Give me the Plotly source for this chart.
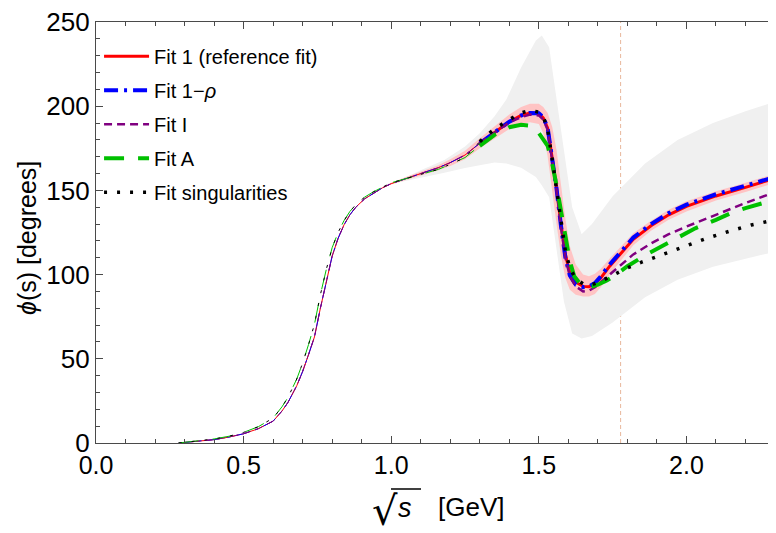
import plotly.graph_objects as go

# ---------------- data ----------------
m_tau = 1.777  # GeV, vertical marker

# low-energy part (thin lines)
x_low = [0.28, 0.33, 0.40, 0.45, 0.50, 0.55, 0.60, 0.63, 0.65, 0.68, 0.70, 0.72,
         0.74, 0.76, 0.78, 0.80, 0.82, 0.84, 0.86, 0.88, 0.91, 0.94, 0.97, 1.00,
         1.05, 1.10, 1.16, 1.20, 1.25]
phi_low_main = [0, 0.7, 2.0, 3.5, 5.5, 8.5, 13, 19, 24, 34, 42.5, 52.5,
                63, 80, 96, 111, 121.5, 129.5, 135.5, 140, 145, 148.5, 151.5, 154,
                157.2, 160, 163.5, 166.5, 171]
phi_low_alt = [0, 0.9, 2.4, 4.0, 6.3, 9.7, 14.8, 21.5, 27, 38, 47.5, 58.5,
               70.5, 88, 103, 116, 125, 132, 137.5, 141.5, 146, 149.2, 152, 154.5,
               157, 159.5, 162.5, 165.5, 169.5]

# high-energy part (thick lines)
x_fit1 = [1.30, 1.35, 1.40, 1.44, 1.47, 1.50, 1.515, 1.53, 1.545, 1.56, 1.575, 1.59,
          1.605, 1.625, 1.65, 1.67, 1.69, 1.71, 1.74, 1.78, 1.82, 1.88, 1.94, 2.00,
          2.10, 2.20, 2.30]
phi_fit1 = [178, 184.5, 190.8, 194.5, 196, 195.5, 193, 187, 170, 152, 130, 112,
            101, 95.5, 93, 92.8, 94.5, 98, 105, 113, 121, 129, 135.5, 140.5,
            146.7, 151.8, 157.2]
phi_fit1rho = [178, 184.5, 190.8, 194.5, 196, 195.8, 193.5, 187, 170, 151, 129, 110,
               99.5, 94, 92.5, 93, 95, 99, 106, 114, 122, 130, 136.5, 141.5,
               147.7, 152.8, 158]
phi_fitI = [178, 184.5, 190.5, 193.5, 195, 194.5, 192, 186, 169, 150, 128, 110,
            99, 93, 90, 90.5, 92.5, 95.5, 100.5, 106.5, 112, 118.5, 124, 128.5,
            135.5, 142.5, 149]
x_fitA = [1.30, 1.35, 1.40, 1.44, 1.47, 1.50, 1.53, 1.545, 1.56, 1.575, 1.59, 1.605,
          1.62, 1.64, 1.66, 1.68, 1.70, 1.73, 1.76, 1.80, 1.87, 1.95, 2.03, 2.10,
          2.15, 2.20, 2.30]
phi_fitA = [176.5, 183, 187.5, 189, 188.5, 184, 176.5, 166, 153, 137, 122, 108,
            99, 94.5, 93, 93, 94, 96.5, 99.8, 105, 112.5, 120, 127.5, 132.5,
            136.5, 139.5, 144.5]
x_sing = [1.30, 1.35, 1.40, 1.44, 1.47, 1.50, 1.515, 1.53, 1.545, 1.56, 1.575, 1.59,
          1.605, 1.625, 1.65, 1.68, 1.71, 1.75, 1.80, 1.85, 1.93, 2.00, 2.07, 2.15,
          2.22, 2.30]
phi_sing = [179, 186.5, 192, 196, 197.5, 196.5, 194, 186, 169, 150, 130, 114,
            104, 97.5, 94.5, 94, 96, 99.5, 104, 107.5, 112.7, 117.5, 121.6, 126,
            129.5, 132.5]

# error band of Fit 1 (pink)
x_band1 = [0.97, 1.00, 1.05, 1.10, 1.16, 1.20, 1.25, 1.30, 1.35, 1.40, 1.44, 1.47,
           1.50, 1.515, 1.53, 1.545, 1.56, 1.575, 1.59, 1.605, 1.625, 1.65, 1.67,
           1.69, 1.71, 1.74, 1.78, 1.82, 1.88, 1.94, 2.00, 2.10, 2.20, 2.30]
band1_hi = [151.5, 154.5, 158, 161.2, 165, 168.5, 173.5, 181, 188, 195, 199.5, 201.5,
            201.5, 199.5, 196, 188, 174, 154, 133, 117, 106, 100, 99,
            100.5, 103.5, 109.5, 117, 124.5, 132, 138.5, 143.5, 149.5, 154.5, 160]
band1_lo = [151.5, 153.5, 156.4, 158.8, 162, 164.5, 168.5, 175, 181, 186.5, 189.5, 190.5,
            189.5, 184, 170, 150, 130, 111, 98, 91, 88, 87, 87,
            88.5, 92.5, 100, 109, 117.5, 126, 132.5, 137.5, 144, 149, 154.5]

# large uncertainty band (grey)
x_grey = [0.98, 1.03, 1.10, 1.18, 1.25, 1.30, 1.35, 1.39, 1.44, 1.49, 1.51, 1.535,
          1.557, 1.585, 1.613, 1.645, 1.68, 1.75, 1.86, 1.97, 2.09, 2.20, 2.30]
grey_hi = [153.5, 156.2, 162, 168, 176, 184, 194, 204, 223, 239, 242, 235,
           208, 174, 140, 124, 130, 146.5, 166, 180, 190, 197, 202.6]
grey_lo = [153, 155, 157.5, 160.5, 163.3, 165, 166.5, 166, 163.5, 158, 153, 146,
           120, 84, 65, 62, 63.5, 71.5, 86.5, 97, 104.7, 109.5, 113.6]

x_ticks = [0.0, 0.5, 1.0, 1.5, 2.0]
x_ticktext = ["0.0", "0.5", "1.0", "1.5", "2.0"]
y_ticks = [0, 50, 100, 150, 200, 250]

FONT = "Liberation Sans, Arial, sans-serif"

fits = [
    # name, x_high, y_high, low values, color, width, dash
    ("Fit 1 (reference fit)", x_fit1, phi_fit1, phi_low_main, "#ff0000", 3, "solid"),
    ("Fit 1\u2212<i>\u03c1</i>", x_fit1, phi_fit1rho, phi_low_main, "#0000ff", 4, "14px,6px,3px,6px"),
    ("Fit I", x_fit1, phi_fitI, phi_low_main, "#800080", 2.5, "8px,5px"),
    ("Fit A", x_fitA, phi_fitA, phi_low_alt, "#00c000", 4, "20px,14px"),
    ("Fit singularities", x_sing, phi_sing, phi_low_alt, "#000000", 3.5, "3px,10px"),
]

fig = go.Figure()

# tau-mass marker (under the bands)
fig.add_trace(go.Scatter(x=[m_tau, m_tau], y=[0, 250], mode="lines",
                         line=dict(color="#e8b89c", width=1, dash="4px,3px"),
                         showlegend=False, hoverinfo="skip"))

# grey band
fig.add_trace(go.Scatter(x=x_grey + x_grey[::-1], y=grey_hi + grey_lo[::-1],
                         fill="toself", fillcolor="#f0f0f0", mode="lines",
                         line=dict(width=0, color="#f0f0f0"),
                         showlegend=False, hoverinfo="skip"))
# pink band
fig.add_trace(go.Scatter(x=x_band1 + x_band1[::-1], y=band1_hi + band1_lo[::-1],
                         fill="toself", fillcolor="#ffc4c4", mode="lines",
                         line=dict(width=0, color="#ffc4c4"),
                         showlegend=False, hoverinfo="skip"))

# thin low-energy parts
for name, xh, yh, ylow, col, w, dash in fits:
    fig.add_trace(go.Scatter(x=x_low + xh[:1], y=ylow + yh[:1], mode="lines",
                             line=dict(color=col, width=1, dash=dash),
                             showlegend=False, hoverinfo="skip"))

# thick high-energy parts
for i, (name, xh, yh, ylow, col, w, dash) in enumerate(fits):
    fig.add_trace(go.Scatter(x=xh, y=yh, mode="lines", name=name,
                             legendgroup=f"g{i}",
                             line=dict(color=col, width=w, dash=dash)))

axis_common = dict(showline=True, linecolor="#4a4a4a", linewidth=1.3, mirror="ticks",
                   ticks="inside", ticklen=7, tickwidth=1, tickcolor="#4a4a4a",
                   showgrid=False, zeroline=False, automargin=False,
                   ticklabeloverflow="allow")

# page has an 8px body margin, so the figure is sized to fit the window
W, H = 768, 525
fig.update_layout(
    width=W, height=H,
    margin=dict(l=88, r=1, t=14, b=90),
    paper_bgcolor="white", plot_bgcolor="white",
    font=dict(family=FONT, color="black"),
    xaxis=dict(range=[0, 2.3], tickvals=x_ticks, ticktext=x_ticktext,
               tickfont=dict(family=FONT, size=25, color="black"),
               minor=dict(dtick=0.1, ticks="inside", ticklen=4, tickcolor="#4a4a4a"),
               **axis_common),
    yaxis=dict(range=[0, 250], tickvals=y_ticks,
               tickfont=dict(family=FONT, size=26, color="black"),
               minor=dict(dtick=10, ticks="inside", ticklen=4, tickcolor="#4a4a4a"),
               **axis_common),
    legend=dict(x=0.0045, y=0.965, xanchor="left", yanchor="top",
                bgcolor="rgba(0,0,0,0)", tracegroupgap=5,
                font=dict(family=FONT, size=20, color="black"), itemwidth=45),
    showlegend=True,
)

PW, PH = 679.0, 421.0  # plot area size in px


def px(xp):  # page-x (reference pixels) -> paper x
    return (xp - 96) / PW


def py(yp):  # page-y (reference pixels) -> paper y
    return (443 - yp) / PH


# y-axis title
fig.add_annotation(text="<i>\u03d5</i>(s) [degrees]", xref="paper", yref="paper",
                   x=px(27), y=py(238), xanchor="center", yanchor="middle",
                   textangle=-90, showarrow=False,
                   font=dict(family=FONT, size=25, color="black"))

# x-axis title: radical sign, overbar, italic s and unit
fig.add_annotation(text="\u221a", xref="paper", yref="paper",
                   x=px(385), y=py(511), xanchor="center", yanchor="middle",
                   showarrow=False, font=dict(family="DejaVu Sans", size=40, color="black"))
fig.add_shape(type="line", xref="paper", yref="paper",
              x0=px(391), x1=px(421), y0=py(489), y1=py(489),
              line=dict(color="black", width=1.5))
fig.add_annotation(text="<i>s</i>", xref="paper", yref="paper",
                   x=px(405), y=py(508), xanchor="center", yanchor="middle",
                   showarrow=False, font=dict(family=FONT, size=27, color="black"))
fig.add_annotation(text="[GeV]", xref="paper", yref="paper",
                   x=px(471), y=py(507), xanchor="center", yanchor="middle",
                   showarrow=False, font=dict(family=FONT, size=26, color="black"))

fig.write_html("out.html")
